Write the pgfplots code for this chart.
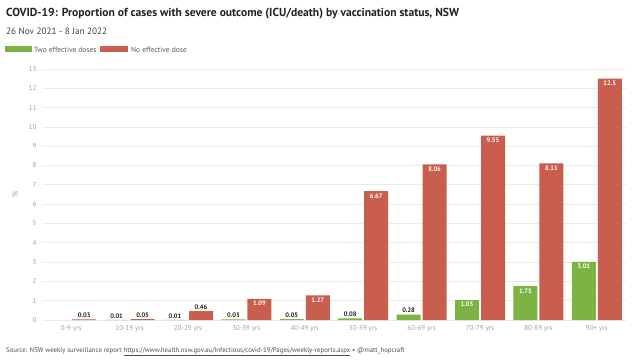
\documentclass[border=0pt]{standalone}
\usepackage{pgfplots}
\pgfplotsset{compat=1.18}
\usepackage{fontspec}
\setmainfont{PT Sans}
\definecolor{gbar}{HTML}{7DB343}
\definecolor{rbar}{HTML}{C95E4F}
\definecolor{rdark}{HTML}{B5483A}
\definecolor{tickgray}{HTML}{A0A0A0}
\definecolor{gridgray}{HTML}{EBEBEB}
\definecolor{txt}{HTML}{222222}
\begin{document}
\begin{tikzpicture}
\useasboundingbox[fill=white] (0pt,0pt) rectangle (640pt,362pt);
\node[anchor=base west,font=\bfseries\fontsize{11.6}{14}\selectfont,text=txt,inner sep=0] at (6pt,345pt) {COVID-19: Proportion of cases with severe outcome (ICU/death) by vaccination status, NSW};
\node[anchor=base west,font=\fontsize{9.2}{11}\selectfont,text=txt!85,inner sep=0] at (6pt,327.5pt) {26 Nov 2021 - 8 Jan 2022};
\fill[gbar] (5pt,310pt) rectangle (32pt,315.5pt);
\node[anchor=west,font=\fontsize{7.5}{9}\selectfont,text=txt!75,inner sep=0] at (34pt,312.5pt) {Two effective doses};
\fill[rbar] (100pt,310pt) rectangle (128pt,315.5pt);
\node[anchor=west,font=\fontsize{7.5}{9}\selectfont,text=txt!75,inner sep=0] at (131pt,312.5pt) {No effective dose};
\node[anchor=base west,font=\fontsize{6.8}{8}\selectfont,text=txt!80,inner sep=0] at (6pt,9.5pt) {Source: NSW weekly surveillance report \underline{https://www.health.nsw.gov.au/Infectious/covid-19/Pages/weekly-reports.aspx} • @matt\_hopcraft};
\begin{axis}[
  at={(42pt,42pt)}, anchor=south west,
  width=584pt, height=251pt, scale only axis,
  ybar=2pt, bar width=24pt,
  xmin=-0.5, xmax=9.5, ymin=0, ymax=13,
  ytick={0,1,...,13},
  xtick={0,...,9},
  xticklabels={0-9 yrs,10-19 yrs,20-29 yrs,30-39 yrs,40-49 yrs,50-59 yrs,60-69 yrs,70-79 yrs,80-89 yrs,90+ yrs},
  ymajorgrids, grid style={gridgray, line width=0.8pt},
  axis line style={draw=none},
  major tick length=0pt,
  tick label style={font=\fontsize{7}{8}\selectfont, text=tickgray},
  /pgf/number format/assume math mode=true,
  yticklabel style={xshift=-2pt},
  xticklabel style={yshift=-2pt},
  ylabel={\%}, ylabel style={font=\fontsize{8}{9}\selectfont, text=tickgray, yshift=4pt},
  point meta=explicit symbolic,
  nodes near coords={\ifdim\pgfplotspointmeta pt>1pt\textcolor{white}{\pgfplotspointmeta}\else\textcolor{txt}{\pgfplotspointmeta}\fi},
  every node near coord/.append style={font=\bfseries\fontsize{6.5}{7}\selectfont, inner sep=1.5pt},
  coordinate style/.condition={y>1}{anchor=north, yshift=-0.5pt},
  clip=false,
]
\addplot[fill=gbar, draw=none] table[meta=lab] {
x y lab
1 0.01 0.01
2 0.01 0.01
3 0.03 0.03
4 0.05 0.05
5 0.08 0.08
6 0.28 0.28
7 1.03 1.03
8 1.75 1.75
9 3.01 3.01
};
\addplot[fill=rbar, draw=none] table[meta=lab] {
x y lab
0 0.03 0.03
1 0.05 0.05
2 0.46 0.46
3 1.09 1.09
4 1.27 1.27
5 6.67 6.67
6 8.06 8.06
7 9.55 9.55
8 8.11 8.11
9 12.5 12.5
};
\end{axis}
\end{tikzpicture}
\end{document}
